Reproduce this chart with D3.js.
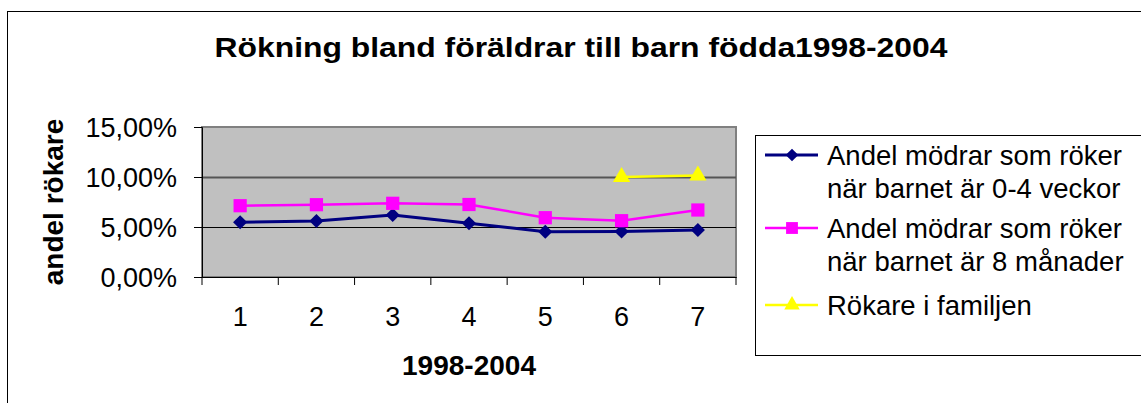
<!DOCTYPE html>
<html lang="sv">
<head>
<meta charset="utf-8">
<script src="https://d3js.org/d3.v7.min.js"></script>
<style>
  body { margin: 0; background: #fff; }
  text { font-family: "Liberation Sans", Arial, sans-serif; fill: #000; }
</style>
</head>
<body>
<script>
// data (percent)
const categories = ["1", "2", "3", "4", "5", "6", "7"];
const mothers04w = [5.47, 5.6, 6.2, 5.37, 4.53, 4.55, 4.7];
const mothers8m = [7.13, 7.23, 7.37, 7.25, 5.93, 5.63, 6.7];
const familySmokers = [null, null, null, null, null, 10.0, 10.15];
const yTicks = [0, 5, 10, 15];
const seriesNames = [
  ["Andel mödrar som röker", "när barnet är 0-4 veckor"],
  ["Andel mödrar som röker", "när barnet är 8 månader"],
  ["Rökare i familjen"]
];
const title = "Rökning bland föräldrar till barn födda1998-2004";
const xTitle = "1998-2004";
const yTitle = "andel rökare";

const W = 1141, H = 403;
const plot = {left: 202, right: 736, top: 127, bottom: 277};

const svg = d3.select("body").append("svg")
  .attr("width", W).attr("height", H);

// outer chart border (runs off the right and bottom edge)
svg.append("rect")
  .attr("x", 7.5).attr("y", 11.5)
  .attr("width", W + 20).attr("height", H + 20)
  .attr("fill", "#fff").attr("stroke", "#000").attr("stroke-width", 1);

svg.append("text")
  .attr("x", 581).attr("y", 57)
  .attr("text-anchor", "middle")
  .attr("font-size", 28).attr("font-weight", "bold")
  .attr("textLength", 733).attr("lengthAdjust", "spacingAndGlyphs")
  .text(title);

var x = d3.scaleBand().domain(categories).range([plot.left, plot.right]);
var y = d3.scaleLinear().domain([0, 15]).range([plot.bottom, plot.top]);

// plot area
svg.append("rect")
  .attr("x", plot.left).attr("y", plot.top)
  .attr("width", plot.right - plot.left).attr("height", plot.bottom - plot.top)
  .attr("fill", "#c0c0c0").attr("stroke", "#808080").attr("stroke-width", 2);

// gridlines
svg.append("g").selectAll("line")
  .data(yTicks.filter(function(d) { return d > 0 && d < 15; }))
  .enter().append("line")
  .attr("x1", plot.left).attr("x2", plot.right)
  .attr("y1", function(d) { return Math.round(y(d)) + 0.5; })
  .attr("y2", function(d) { return Math.round(y(d)) + 0.5; })
  .attr("stroke", function(d) { return d == 10 ? "#555" : "#000"; })
  .attr("stroke-width", function(d) { return d == 10 ? 2 : 1.2; });

// y axis
var yAxis = svg.append("g")
  .attr("transform", "translate(" + plot.left + ",0)")
  .call(d3.axisLeft(y).tickValues(yTicks).tickSize(8).tickPadding(17)
    .tickFormat(function(d) { return d.toFixed(2).replace(".", ",") + "%"; }));
yAxis.selectAll("text").attr("font-size", 27).attr("font-family", "Liberation Sans, Arial").attr("fill", "#000").attr("dy", "0.35em");
yAxis.selectAll("line").attr("stroke", "#000");
yAxis.select(".domain").attr("stroke", "#000");

// x axis: labels at centres, ticks on the category boundaries
var xAxis = svg.append("g")
  .attr("transform", "translate(0," + plot.bottom + ")")
  .call(d3.axisBottom(x).tickSize(0).tickPadding(30));
xAxis.selectAll("text").attr("font-size", 27).attr("font-family", "Liberation Sans, Arial").attr("fill", "#000");
xAxis.select(".domain").attr("stroke", "#000");
xAxis.selectAll(".boundary")
  .data(categories.concat(["end"]))
  .enter().append("line")
  .attr("class", "boundary")
  .attr("x1", function(d) { return d == "end" ? x.range()[1] : x(d); })
  .attr("x2", function(d) { return d == "end" ? x.range()[1] : x(d); })
  .attr("y1", 0).attr("y2", 8)
  .attr("stroke", "#000");

svg.append("text")
  .attr("x", (plot.left + plot.right) / 2).attr("y", 375)
  .attr("text-anchor", "middle")
  .attr("font-size", 28).attr("font-weight", "bold")
  .text(xTitle);

svg.append("text")
  .attr("transform", "translate(63," + ((plot.top + plot.bottom) / 2) + ") rotate(-90)")
  .attr("text-anchor", "middle")
  .attr("font-size", 28).attr("font-weight", "bold")
  .text(yTitle);

// series (diamond = square turned 45deg)
var series = [
  {values: mothers04w, color: "#000080", width: 3, symbol: d3.symbolSquare, rot: 45, size: 100},
  {values: mothers8m, color: "#ff00ff", width: 2.5, symbol: d3.symbolSquare, rot: 0, size: 175},
  {values: familySmokers, color: "#ffff00", width: 2.5, symbol: d3.symbolTriangle, rot: 0, size: 130}
];
var cx = function(i) { return x(categories[i]) + x.bandwidth() / 2; };

var line = d3.line()
  .defined(function(d) { return d != null; })
  .x(function(d, i) { return cx(i); })
  .y(function(d) { return y(d); });

series.forEach(function(s) {
  svg.append("path")
    .attr("d", line(s.values))
    .attr("fill", "none")
    .attr("stroke", s.color)
    .attr("stroke-width", s.width);
  svg.append("g").selectAll("path")
    .data(s.values.map(function(v, i) { return {v: v, i: i}; }).filter(function(d) { return d.v != null; }))
    .enter().append("path")
    .attr("transform", function(d) { return "translate(" + cx(d.i) + "," + y(d.v) + ") rotate(" + s.rot + ")"; })
    .attr("d", d3.symbol().type(s.symbol).size(s.size))
    .attr("fill", s.color);
});

// legend
var lg = svg.append("g");
lg.append("rect")
  .attr("x", 755.5).attr("y", 135.5)
  .attr("width", 420).attr("height", 220)
  .attr("fill", "#fff").attr("stroke", "#000");

var legendY = [155, 228, 305];
series.forEach(function(s, k) {
  var g = lg.append("g").attr("transform", "translate(0," + legendY[k] + ")");
  g.append("line").attr("x1", 765).attr("x2", 818).attr("y1", 0).attr("y2", 0)
    .attr("stroke", s.color).attr("stroke-width", s.width);
  g.append("path").attr("transform", "translate(792,0) rotate(" + s.rot + ")")
    .attr("d", d3.symbol().type(s.symbol).size(s.size * 0.8))
    .attr("fill", s.color);
  seriesNames[k].forEach(function(t, j) {
    g.append("text")
      .attr("x", 827).attr("y", 10 + j * 33)
      .attr("font-size", 27.5)
      .text(t);
  });
});
</script>
</body>
</html>
